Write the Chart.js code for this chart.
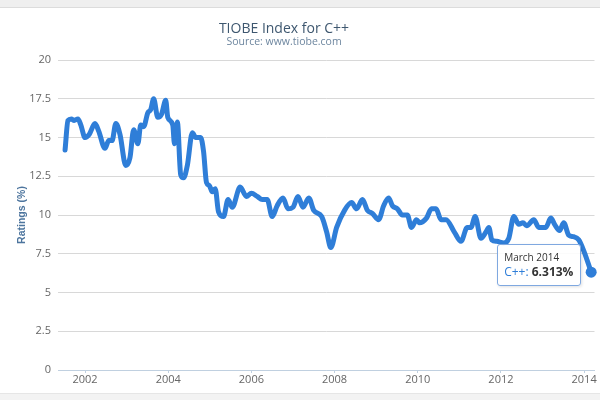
<!DOCTYPE html>
<html>
<head>
<meta charset="utf-8">
<script src="https://cdn.jsdelivr.net/npm/chart.js@4.4.1/dist/chart.umd.min.js"></script>
<style>
  html, body { margin: 0; padding: 0; }
  body { width: 600px; height: 400px; position: relative; overflow: hidden; background: #fff; font-family: "Open Sans", sans-serif; }
  .band-top { position: absolute; left: 0; top: 0; width: 600px; height: 7px; background: #efefef; border-bottom: 1px solid #dcdcdc; }
  .band-bottom { position: absolute; left: 0; top: 393px; width: 600px; height: 7px; background: #f3f3f3; border-top: 1px solid #e6e6e6; }
  canvas { position: absolute; left: 0; top: 0; }
  #title { position: absolute; left: 184px; width: 200px; top: 20px; text-align: center; font-size: 14px; line-height: 16px; color: #3E576F; }
  #subtitle { position: absolute; left: 184px; width: 200px; top: 35px; text-align: center; font-size: 10.5px; line-height: 13px; color: #6D869F; }
  #tip { position: absolute; padding: 5px 7px 5px 6px; background: rgba(255,255,255,0.88); border: 1px solid #7fa8e0; border-radius: 3px; box-shadow: 1px 1px 3px rgba(0,0,0,0.12); white-space: nowrap; }
  #tip .t1 { font-size: 10px; line-height: 14px; color: #333; }
  #tip .t2 { font-size: 12px; line-height: 16px; color: #333; }
  #tip .t2 .name { color: #2f7ed8; }
</style>
</head>
<body>
<div class="band-top"></div>
<div class="band-bottom"></div>
<canvas id="chart" width="600" height="400"></canvas>
<div id="title">TIOBE Index for C++</div>
<div id="subtitle">Source: www.tiobe.com</div>
<div id="tip"><div class="t1"></div><div class="t2"><span class="name"></span><b></b></div></div>
<script>
// TIOBE rating for C++ (decimal year, percent)
const years = [
  2001.52, 2001.59, 2001.67, 2001.74, 2001.83, 2001.90, 2002.00, 2002.10, 2002.24, 2002.33,
  2002.48, 2002.57, 2002.65, 2002.74, 2002.84, 2002.98, 2003.08, 2003.17, 2003.27, 2003.34,
  2003.41, 2003.51, 2003.58, 2003.65, 2003.75, 2003.84, 2003.94, 2003.99, 2004.11, 2004.15,
  2004.22, 2004.30, 2004.37, 2004.46, 2004.58, 2004.66, 2004.78, 2004.85, 2004.92, 2004.99,
  2005.06, 2005.13, 2005.21, 2005.33, 2005.44, 2005.54, 2005.73, 2005.88, 2006.00, 2006.14,
  2006.26, 2006.38, 2006.50, 2006.62, 2006.76, 2006.88, 2007.00, 2007.12, 2007.24, 2007.38,
  2007.50, 2007.69, 2007.81, 2007.91, 2008.05, 2008.24, 2008.41, 2008.53, 2008.67, 2008.79,
  2008.91, 2009.06, 2009.18, 2009.30, 2009.39, 2009.51, 2009.63, 2009.75, 2009.85, 2009.97,
  2010.04, 2010.21, 2010.33, 2010.44, 2010.56, 2010.68, 2010.88, 2011.04, 2011.19, 2011.28,
  2011.38, 2011.52, 2011.64, 2011.71, 2011.78, 2011.90, 2012.07, 2012.19, 2012.31, 2012.43,
  2012.53, 2012.62, 2012.79, 2012.91, 2013.08, 2013.20, 2013.29, 2013.41, 2013.51, 2013.63,
  2013.75, 2013.87, 2013.99, 2014.17
];
const ratings = [
  14.2, 16.1, 16.2, 16.1, 16.2, 15.8, 15.0, 15.2, 15.9, 15.4,
  14.3, 14.8, 14.8, 15.9, 15.2, 13.2, 13.7, 15.5, 14.6, 15.8,
  15.7, 16.6, 16.8, 17.5, 16.3, 16.5, 17.4, 16.3, 15.8, 14.6,
  16.0, 12.6, 12.4, 13.2, 15.3, 15.0, 15.0, 14.1, 12.1, 11.9,
  11.5, 11.7, 10.2, 9.9, 11.0, 10.5, 11.8, 11.2, 11.4, 11.2,
  11.0, 11.0, 9.9, 10.6, 11.1, 10.4, 10.5, 11.2, 10.5, 11.1,
  10.3, 9.9, 8.9, 7.9, 9.2, 10.3, 10.8, 10.4, 11.0, 10.3,
  10.1, 9.7, 10.6, 11.1, 10.6, 10.4, 10.0, 10.0, 9.2, 9.7,
  9.5, 9.8, 10.4, 10.4, 9.7, 9.7, 8.9, 8.3, 9.2, 9.2,
  9.9, 8.5, 8.9, 9.2, 8.4, 8.3, 8.2, 8.5, 9.9, 9.4,
  9.5, 9.3, 9.7, 9.2, 9.2, 9.8, 9.4, 9.0, 9.5, 8.7,
  8.6, 8.4, 7.7, 6.313
];
const xTickYears = [2002, 2004, 2006, 2008, 2010, 2012, 2014];
const seriesName = 'C++';
const tipTitle = 'March 2014';

const lineColor = '#2f7ed8';
const lastIndex = ratings.length - 1;

document.querySelector('#tip .t1').textContent = tipTitle;
document.querySelector('#tip .name').textContent = seriesName + ': ';
document.querySelector('#tip b').textContent = ratings[lastIndex].toFixed(3) + '%';

const tipPlugin = {
  id: 'tipPlugin',
  afterDraw(chart) {
    const pt = chart.getDatasetMeta(0).data[lastIndex];
    const tip = document.getElementById('tip');
    tip.style.left = (pt.x - 10 - tip.offsetWidth) + 'px';
    tip.style.top = (pt.y - 28) + 'px';
  }
};

Chart.defaults.font.family = '"Open Sans", sans-serif';

new Chart(document.getElementById('chart'), {
  type: 'line',
  data: {
    datasets: [{
      label: seriesName,
      data: years.map((x, i) => ({ x: x, y: ratings[i] })),
      borderColor: lineColor,
      backgroundColor: lineColor,
      borderWidth: 5,
      borderJoinStyle: 'round',
      borderCapStyle: 'round',
      cubicInterpolationMode: 'monotone',
      pointRadius: ctx => ctx.dataIndex === lastIndex ? 5.5 : 0,
      pointBorderWidth: 0,
      clip: false,
      fill: false
    }]
  },
  options: {
    responsive: false,
    animation: false,
    layout: { padding: { left: 0, right: 3, top: 60, bottom: 8 } },
    plugins: {
      legend: { display: false },
      tooltip: { enabled: false }
    },
    scales: {
      x: {
        type: 'linear',
        min: 2001.35,
        max: 2014.25,
        afterBuildTicks: scale => { scale.ticks = xTickYears.map(v => ({ value: v })); },
        afterFit: scale => { scale.height = 22; },
        ticks: {
          color: '#666',
          font: { size: 11 },
          padding: 0,
          maxRotation: 0,
          callback: v => String(v)
        },
        grid: { drawOnChartArea: false, drawTicks: true, tickLength: 3, color: '#C0D0E0' },
        border: { color: '#C0D0E0', width: 1 }
      },
      y: {
        min: 0,
        max: 20,
        afterFit: scale => { scale.width = 58; },
        ticks: { stepSize: 2.5, color: '#666', font: { size: 11 }, padding: 7 },
        grid: { color: '#d8d8d8', drawTicks: false },
        border: { display: false },
        title: {
          display: true,
          text: 'Ratings (%)',
          color: '#4D759E',
          font: { size: 10.5, weight: 'bold', family: '"Liberation Sans", Arial, sans-serif' },
          padding: { top: 16, bottom: 0 }
        }
      }
    }
  },
  plugins: [tipPlugin]
});
</script>
</body>
</html>
